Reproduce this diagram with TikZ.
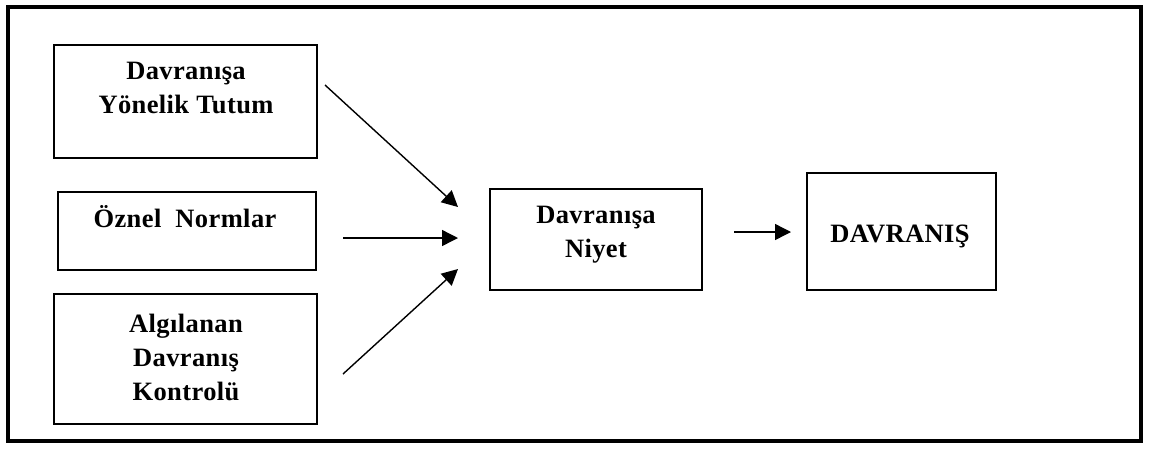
\documentclass[tikz,border=0pt]{standalone}
\usepackage{fontspec}
\setmainfont{Liberation Serif}[LetterSpace=1.5]
\usetikzlibrary{arrows.meta}
\begin{document}
\begin{tikzpicture}[x=1pt,y=-1pt,
  frame/.style={draw=black,line width=4pt},
  box/.style={draw=black,line width=1.8pt,inner sep=0pt,anchor=north west},
  lbl/.style={font=\bfseries\fontsize{26.5}{34}\selectfont,align=center,anchor=base,inner sep=0pt},
  link/.style={line width=1.4pt,-{Triangle[length=16pt,width=16pt]}}]
\useasboundingbox (0,0) rectangle (1151,451);
% outer frame
\draw[frame] (7.5,6.5) rectangle (1141,441);
% boxes
\node[box,minimum width=263pt,minimum height=113pt] (tutum) at (53,44) {};
\node[box,minimum width=258pt,minimum height=78pt] (norm) at (57,191) {};
\node[box,minimum width=263pt,minimum height=130pt] (kontrol) at (53,293) {};
\node[box,minimum width=212pt,minimum height=101pt] (niyet) at (489,188) {};
\node[box,minimum width=189pt,minimum height=117pt] (davranis) at (806,172) {};
% texts
\node[lbl] (tutumT) at (186,113) {Davranışa\\Yönelik Tutum};
\node[lbl] (normT) at (185,227) {Öznel\ \ Normlar};
\node[lbl] (kontrolT) at (186,400) {Algılanan\\Davranış\\Kontrolü};
\node[lbl] (niyetT) at (596,257) {Davranışa\\Niyet};
\node[lbl] (davranisT) at (900,242) {DAVRANIŞ};
% connector ends
\coordinate (a1) at (325,85);
\coordinate (b1) at (458,207);
\coordinate (a2) at (343,238);
\coordinate (b2) at (458,238);
\coordinate (a3) at (343,374);
\coordinate (b3) at (458,269);
\coordinate (a4) at (734,232);
\coordinate (b4) at (791,232);
\draw[link] (a1) -- (b1);
\draw[link] (a2) -- (b2);
\draw[link] (a3) -- (b3);
\draw[link] (a4) -- (b4);
\end{tikzpicture}
\end{document}
